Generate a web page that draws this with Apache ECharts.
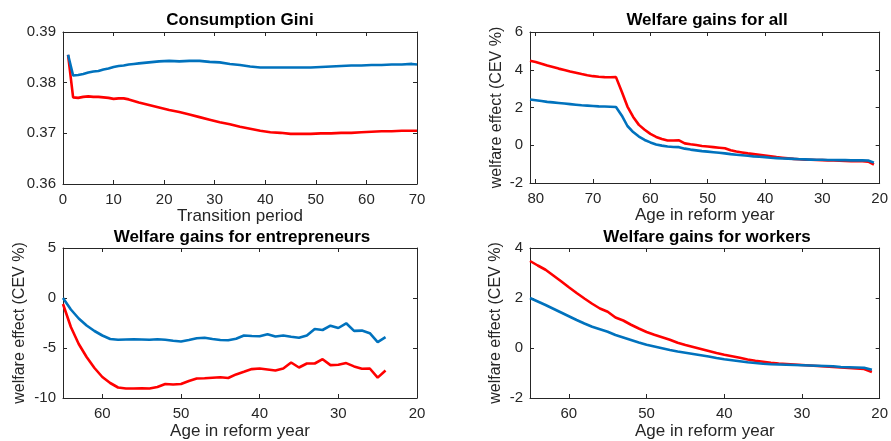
<!DOCTYPE html>
<html>
<head>
<meta charset="utf-8">
<script src="https://cdn.jsdelivr.net/npm/echarts@6/dist/echarts.min.js"></script>
<style>
  html, body { margin: 0; padding: 0; background: #fff; }
  #chart { width: 891px; height: 441px; }
</style>
</head>
<body>
<div id="chart"></div>
<script>
// Consumption Gini along the transition path (period, Gini)
const giniPeriods = [1, 2, 3, 4, 5, 6, 7, 8, 9, 10, 11, 12, 13, 14, 15, 17, 19, 21, 23, 25, 27, 29, 31, 33, 35,
  37, 39, 41, 43, 45, 47, 49, 51, 53, 55, 57, 59, 61, 63, 65, 67, 69, 70];
const giniBlue = [0.3855, 0.3814, 0.3815, 0.3817, 0.3820, 0.3822, 0.3823, 0.3826, 0.3828, 0.3831, 0.3833, 0.3834,
  0.3836, 0.3837, 0.3838, 0.3840, 0.3842, 0.3843, 0.3842, 0.3843, 0.3843, 0.3841, 0.3840, 0.3837, 0.3835,
  0.3832, 0.3830, 0.3830, 0.3830, 0.3830, 0.3830, 0.3830, 0.3831, 0.3832, 0.3833, 0.3834, 0.3834, 0.3835,
  0.3835, 0.3836, 0.3836, 0.3837, 0.3836];
const giniRed = [0.3855, 0.3771, 0.3770, 0.3772, 0.3773, 0.3772, 0.3772, 0.3771, 0.3770, 0.3768, 0.3769, 0.3769,
  0.3767, 0.3764, 0.3761, 0.3756, 0.3751, 0.3746, 0.3742, 0.3737, 0.3732, 0.3727, 0.3722, 0.3718, 0.3713,
  0.3709, 0.3705, 0.3702, 0.3701, 0.3699, 0.3699, 0.3699, 0.3700, 0.3700, 0.3701, 0.3701, 0.3702, 0.3703,
  0.3704, 0.3704, 0.3705, 0.3705, 0.3705];

// Welfare gains for all households, by age in the reform year (81 down to 21)
const allAges = [81, 80, 79, 78, 77, 76, 75, 74, 73, 72, 71, 70, 69, 68, 67, 66, 65, 64, 63, 62, 61, 60, 59, 58,
  57, 56, 55, 54, 53, 52, 51, 50, 49, 48, 47, 46, 45, 44, 43, 42, 41, 40, 39, 38, 37, 36, 35, 34, 33, 32, 31,
  30, 29, 28, 27, 26, 25, 24, 23, 22, 21];
const allRed = [4.48, 4.41, 4.32, 4.22, 4.14, 4.06, 3.99, 3.91, 3.84, 3.77, 3.71, 3.66, 3.63, 3.61, 3.60, 3.61,
  2.85, 2.05, 1.50, 1.08, 0.82, 0.60, 0.44, 0.33, 0.25, 0.25,
  0.26, 0.10, 0.05, 0.01, -0.04, -0.07, -0.10, -0.13, -0.16, -0.27,
  -0.33, -0.38, -0.43, -0.47, -0.51, -0.55, -0.59, -0.63, -0.66, -0.69,
  -0.72, -0.74, -0.76, -0.77, -0.78, -0.79, -0.80, -0.81, -0.82, -0.83,
  -0.84, -0.85, -0.85, -0.87, -1.02];
const allBlue = [2.42, 2.38, 2.34, 2.30, 2.27, 2.24, 2.21, 2.18, 2.15, 2.12, 2.10, 2.08, 2.06, 2.05, 2.04, 2.03,
  1.58, 1.02, 0.70, 0.46, 0.28, 0.15, 0.04, -0.02, -0.07, -0.09,
  -0.10, -0.18, -0.23, -0.27, -0.31, -0.34, -0.37, -0.40, -0.43, -0.47,
  -0.50, -0.53, -0.56, -0.59, -0.61, -0.63, -0.66, -0.68, -0.70, -0.71,
  -0.72, -0.74, -0.75, -0.76, -0.77, -0.77, -0.78, -0.78, -0.79, -0.79,
  -0.80, -0.80, -0.80, -0.81, -0.92];

// Welfare gains for entrepreneurs (65 down to 24)
const entAges = [65, 64, 63, 62, 61, 60, 59, 58, 57, 56, 55, 54, 53, 52, 51, 50, 49, 48, 47, 46, 45, 44, 43, 42,
  41, 40, 39, 38, 37, 36, 35, 34, 33, 32, 31, 30, 29, 28, 27, 26, 25, 24];
const entRed = [-0.6, -2.9, -4.6, -5.9, -7.0, -7.9, -8.5, -8.95, -9.05, -9.05,
  -9.03, -9.05, -8.9, -8.6, -8.65, -8.6, -8.3, -8.05, -8.03, -7.97,
  -7.93, -8.0, -7.64, -7.38, -7.11, -7.05, -7.15, -7.25, -7.05, -6.45,
  -6.95, -6.55, -6.55, -6.12, -6.71, -6.68, -6.51, -6.84, -7.07, -7.05,
  -7.96, -7.25];
const entBlue = [0.0, -1.15, -2.05, -2.75, -3.3, -3.75, -4.1, -4.18, -4.15, -4.12,
  -4.15, -4.18, -4.12, -4.18, -4.28, -4.35, -4.2, -4.02, -3.97, -4.1,
  -4.2, -4.22, -4.08, -3.75, -3.8, -3.82, -3.62, -3.85, -3.75, -3.88,
  -3.98, -3.75, -3.1, -3.2, -2.77, -3.0, -2.53, -3.29, -3.26, -3.52,
  -4.41, -3.92];

// Welfare gains for workers (65 down to 21)
const wrkAges = [65, 64, 63, 62, 61, 60, 59, 58, 57, 56, 55, 54, 53, 52, 51, 50, 49, 48, 47, 46, 45, 44, 43, 42,
  41, 40, 39, 38, 37, 36, 35, 34, 33, 32, 31, 30, 29, 28, 27, 26, 25, 24, 23, 22, 21];
const wrkRed = [3.48, 3.30, 3.13, 2.90, 2.67, 2.43, 2.20, 1.98, 1.77, 1.58,
  1.45, 1.22, 1.10, 0.93, 0.78, 0.64, 0.53, 0.43, 0.33, 0.21,
  0.12, 0.04, -0.04, -0.12, -0.20, -0.27, -0.33, -0.39, -0.46, -0.51,
  -0.55, -0.59, -0.62, -0.64, -0.66, -0.68, -0.70, -0.72, -0.74, -0.76,
  -0.78, -0.80, -0.82, -0.84, -0.96];
const wrkBlue = [2.00, 1.86, 1.72, 1.57, 1.42, 1.27, 1.12, 0.98, 0.85, 0.75,
  0.65, 0.52, 0.42, 0.32, 0.22, 0.13, 0.06, -0.01, -0.08, -0.14,
  -0.19, -0.24, -0.29, -0.34, -0.40, -0.45, -0.49, -0.53, -0.57, -0.60,
  -0.63, -0.65, -0.66, -0.67, -0.68, -0.69, -0.70, -0.71, -0.72, -0.73,
  -0.76, -0.77, -0.78, -0.79, -0.87];

// Panel titles and axis captions
const titles = ['Consumption Gini', 'Welfare gains for all', 'Welfare gains for entrepreneurs', 'Welfare gains for workers'];
const xNames = ['Transition period', 'Age in reform year', 'Age in reform year', 'Age in reform year'];
const yName = 'welfare effect (CEV %)';

const FONT = '"Liberation Sans", Arial, Helvetica, sans-serif';
const INK = '#262626';
const RED = '#ff0000';
const BLUE = '#0072bd';

const grids = [
  { left: 63, top: 32, width: 354, height: 152 },
  { left: 530, top: 32, width: 353, height: 151 },
  { left: 63, top: 248, width: 354, height: 152 },
  { left: 530, top: 248, width: 353, height: 152 }
];

const xCfg = [
  { min: 0, max: 70, interval: 10, inverse: false, gap: 22 },
  { min: 20, max: 81, interval: 10, inverse: true, gap: 21 },
  { min: 20, max: 65, interval: 10, inverse: true, gap: 25 },
  { min: 20, max: 65, interval: 10, inverse: true, gap: 25 }
];
const yCfg = [
  { min: 0.36, max: 0.39, interval: 0.01, name: '', gap: 0, fmt: v => v.toFixed(2) },
  { min: -2, max: 6, interval: 2, name: yName, gap: 25, fmt: v => String(v) },
  { min: -10, max: 5, interval: 5, name: yName, gap: 35, fmt: v => String(v) },
  { min: -2, max: 4, interval: 2, name: yName, gap: 26, fmt: v => String(v) }
];

const lineStyle = { color: INK, width: 1 };

function baseAxis(gridIndex, c) {
  return {
    type: 'value', gridIndex, min: c.min, max: c.max, interval: c.interval,
    axisLine: { show: true, onZero: false, lineStyle },
    axisTick: { show: true, inside: true, length: 4, lineStyle },
    splitLine: { show: false }
  };
}

const xAxis = [];
const yAxis = [];
grids.forEach((g, i) => {
  const xc = xCfg[i];
  const yc = yCfg[i];
  xAxis.push(Object.assign(baseAxis(i, xc), {
    position: 'bottom', inverse: xc.inverse,
    name: xNames[i], nameLocation: 'middle', nameGap: xc.gap,
    nameTextStyle: { fontFamily: FONT, fontSize: 17, color: INK },
    axisLabel: { show: true, margin: 8, fontFamily: FONT, fontSize: 15, color: INK, showMaxLabel: xc.max % 10 === 0 }
  }));
  xAxis.push(Object.assign(baseAxis(i, xc), {
    position: 'top', inverse: xc.inverse, axisLabel: { show: false }
  }));
  yAxis.push(Object.assign(baseAxis(i, yc), {
    position: 'left',
    name: yc.name, nameLocation: 'middle', nameGap: yc.gap,
    nameTextStyle: { fontFamily: FONT, fontSize: 16, color: INK },
    axisLabel: { show: true, margin: 7, fontFamily: FONT, fontSize: 15, color: INK, formatter: yc.fmt }
  }));
  yAxis.push(Object.assign(baseAxis(i, yc), {
    position: 'right', axisLabel: { show: false }
  }));
});

function pairs(xs, ys) { return xs.map((x, k) => [x, ys[k]]); }

const panels = [
  [giniPeriods, giniRed, giniBlue],
  [allAges, allRed, allBlue],
  [entAges, entRed, entBlue],
  [wrkAges, wrkRed, wrkBlue]
];

const series = [];
panels.forEach((p, i) => {
  [[p[1], RED], [p[2], BLUE]].forEach(([vals, color]) => {
    series.push({
      type: 'line', xAxisIndex: 2 * i, yAxisIndex: 2 * i,
      data: pairs(p[0], vals), showSymbol: false, symbol: 'none',
      lineStyle: { color, width: 2.6 }, itemStyle: { color },
      silent: true, clip: true
    });
  });
});

const titleCenters = [[240, 12], [707, 12], [242, 229], [707, 229]];
const title = titles.map((t, i) => ({
  text: t, left: titleCenters[i][0], top: titleCenters[i][1], textAlign: 'center', padding: 0,
  textStyle: { fontFamily: FONT, fontSize: 17, fontWeight: 'bold', color: '#000' }
}));

const chart = echarts.init(document.getElementById('chart'), null, { renderer: 'canvas' });
chart.setOption({
  animation: false,
  backgroundColor: '#fff',
  title, grid: grids, xAxis, yAxis, series
});
</script>
</body>
</html>
